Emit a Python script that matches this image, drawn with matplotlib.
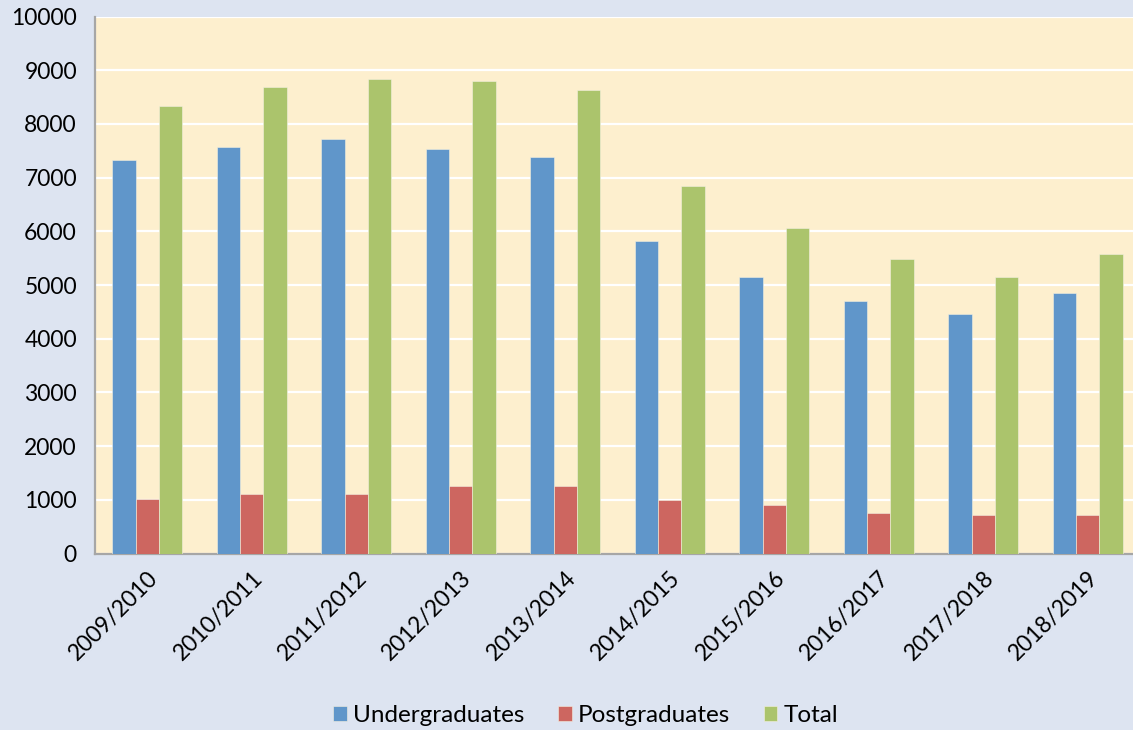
import numpy as np
import matplotlib
matplotlib.use("Agg")
import matplotlib.pyplot as plt

# values
years = ["2009/2010", "2010/2011", "2011/2012", "2012/2013", "2013/2014",
         "2014/2015", "2015/2016", "2016/2017", "2017/2018", "2018/2019"]
undergraduates = [7330, 7570, 7720, 7530, 7380, 5820, 5140, 4700, 4460, 4850]
postgraduates = [1010, 1100, 1100, 1250, 1250, 1000, 910, 760, 710, 710]
total = [8340, 8680, 8830, 8790, 8640, 6840, 6060, 5480, 5150, 5580]

series_names = ["Undergraduates", "Postgraduates", "Total"]
colors = ["#6096CA", "#CD6660", "#ABC46C"]

plt.rcParams["font.family"] = ["Lato", "DejaVu Sans"]

fig = plt.figure(figsize=(11.33, 7.30), dpi=100)
fig.patch.set_facecolor("#DDE4F1")

ax = fig.add_axes([95 / 1133, 176.5 / 730, 1045 / 1133, 537 / 730])
ax.set_facecolor("#FDEFCE")

x = np.arange(len(years))
w = 0.224
for i, (vals, name, c) in enumerate(zip([undergraduates, postgraduates, total],
                                        series_names, colors)):
    ax.bar(x + (i - 1) * w, vals, width=w, color=c, label=name,
           edgecolor="#F4F0E0", linewidth=0.4, zorder=3)

ax.set_xlim(-0.5, len(years) - 0.5)
ax.set_ylim(0, 10000)
ax.set_yticks(range(0, 10001, 1000))
ax.yaxis.grid(True, color="white", linewidth=1.6, zorder=1)
ax.set_axisbelow(True)

for side in ["top", "right"]:
    ax.spines[side].set_visible(False)
for side in ["left", "bottom"]:
    ax.spines[side].set_color("#A6A6A6")
    ax.spines[side].set_linewidth(1.6)

ax.tick_params(axis="both", length=0, labelsize=16.5, colors="black")
ax.tick_params(axis="y", pad=13)
ax.set_xticks(x)
ax.set_xticklabels(years, rotation=45, ha="right", rotation_mode="anchor")
ax.tick_params(axis="x", pad=10)

fig.legend(loc="center", bbox_to_anchor=(0.517, 0.02), ncol=3, frameon=False,
           fontsize=17.5, handlelength=0.55, handleheight=0.55, handletextpad=0.25,
           columnspacing=1.4)

fig.savefig("out.png", dpi=100, facecolor=fig.get_facecolor())
